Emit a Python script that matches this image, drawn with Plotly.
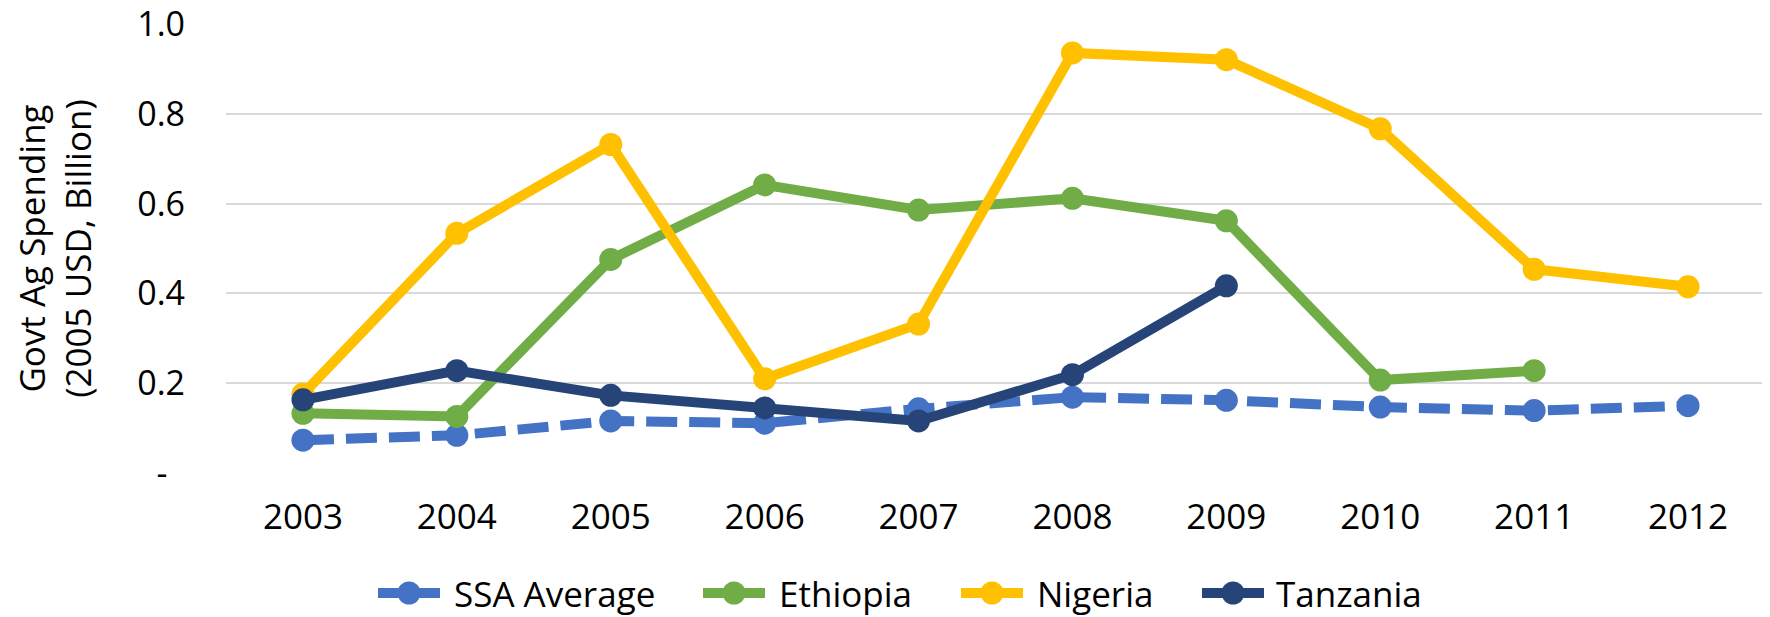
import plotly.graph_objects as go

years = ["2003", "2004", "2005", "2006", "2007", "2008", "2009", "2010", "2011", "2012"]
ssa_average = [0.073, 0.084, 0.116, 0.111, 0.143, 0.169, 0.162, 0.147, 0.139, 0.150]
ethiopia = [0.133, 0.126, 0.476, 0.642, 0.586, 0.612, 0.562, 0.207, 0.228, None]
nigeria = [0.176, 0.534, 0.732, 0.210, 0.332, 0.936, 0.921, 0.767, 0.454, 0.415]
tanzania = [0.163, 0.228, 0.173, 0.145, 0.116, 0.219, 0.417, None, None, None]

series_names = ["SSA Average", "Ethiopia", "Nigeria", "Tanzania"]
series_colors = ["#4472C4", "#70AD47", "#FFC000", "#264478"]
series_dash = ["31px,12px", "solid", "solid", "solid"]

y_tickvals = [0, 0.2, 0.4, 0.6, 0.8, 1.0]
y_ticktext = ["-\u00a0\u00a0", "0.2", "0.4", "0.6", "0.8", "1.0"]

FONT = "Open Sans"
# the page body adds an 8px offset; the figure is sized to compensate
OFF = 8
W, H = 1770 - OFF, 617 - OFF
ML, MR, MT, MB = 226 - OFF, 5, 24 - OFF, 144
PW, PH = W - ML - MR, H - MT - MB

fig = go.Figure()
for name, vals, color, dash in zip(series_names, [ssa_average, ethiopia, nigeria, tanzania],
                                   series_colors, series_dash):
    fig.add_trace(go.Scatter(
        x=years, y=vals, name=name, mode="lines+markers",
        line=dict(color=color, width=10, dash=dash),
        marker=dict(color=color, size=23),
        connectgaps=False, showlegend=False,
    ))

# custom legend (long line symbols like the original), page pixel positions
legend_symbol_px = [373, 698, 956, 1197]
legend_text_px = [453, 778, 1036, 1275]
legend_y_px = 593
sym_len = 72


def px2x(px):
    return (px - OFF - ML) / PW


def py2y(py):
    return (H - MB - (py - OFF)) / PH


shapes = []
annotations = []
for name, color, sx, tx in zip(series_names, series_colors, legend_symbol_px, legend_text_px):
    shapes.append(dict(type="line", xref="paper", yref="paper",
                       x0=px2x(sx + 5), x1=px2x(sx + sym_len - 5),
                       y0=py2y(legend_y_px), y1=py2y(legend_y_px),
                       line=dict(color=color, width=10)))
    shapes.append(dict(type="circle", xref="paper", yref="paper",
                       xsizemode="pixel", ysizemode="pixel",
                       xanchor=px2x(sx + sym_len / 2), yanchor=py2y(legend_y_px),
                       x0=-11.5, x1=11.5, y0=-11.5, y1=11.5,
                       fillcolor=color, line=dict(width=0)))
    annotations.append(dict(xref="paper", yref="paper", x=px2x(tx), y=py2y(legend_y_px),
                            text=name, showarrow=False, xanchor="left", yanchor="middle",
                            borderpad=0,
                            font=dict(family=FONT, size=35, color="#000000")))

fig.update_layout(
    width=W, height=H,
    margin=dict(l=ML, r=MR, t=MT, b=MB, autoexpand=False),
    paper_bgcolor="white", plot_bgcolor="white",
    font=dict(family=FONT, size=35, color="#000000"),
    showlegend=False,
    shapes=shapes,
    annotations=annotations,
    xaxis=dict(
        type="category", range=[-0.5, 9.5], showgrid=False, zeroline=False, showline=False,
        ticks="", ticklabelstandoff=20, automargin=False,
        tickfont=dict(family=FONT, size=35),
    ),
    yaxis=dict(
        range=[0, 1.0005], tickvals=y_tickvals, ticktext=y_ticktext,
        showgrid=True, gridcolor="#D9D9D9", gridwidth=2,
        zeroline=False, showline=False, automargin=False,
        ticks="", ticklabelstandoff=40, ticklabeloverflow="allow",
        tickfont=dict(family=FONT, size=34),
        title=dict(text="Govt Ag Spending<br>(2005 USD, Billion)",
                   font=dict(family=FONT, size=35), standoff=48),
    ),
)

fig.write_html("out.html")
